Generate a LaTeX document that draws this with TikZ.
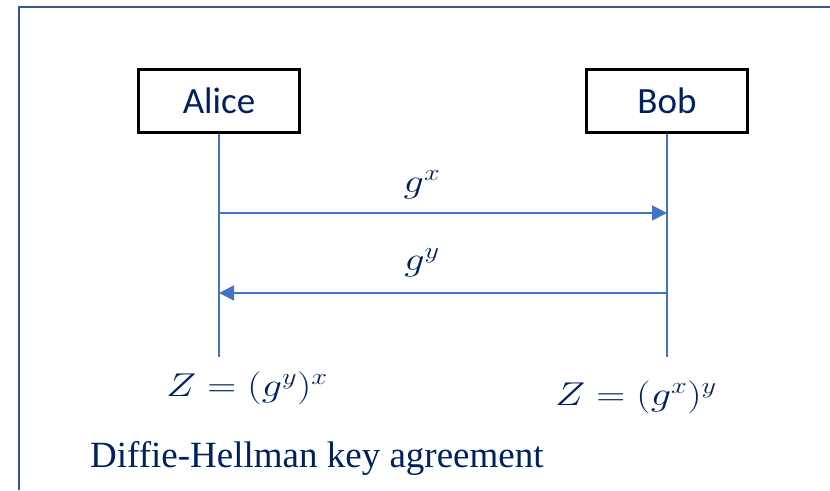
\RequirePackage{fix-cm}
\documentclass[tikz,border=0pt]{standalone}
\usepackage{fontspec}
\setmainfont{Liberation Serif}
\newfontfamily\calib{Carlito}
\usetikzlibrary{arrows.meta}
\definecolor{frameblue}{RGB}{55,85,150}
\definecolor{lineblue}{RGB}{68,114,196}
\definecolor{navy}{RGB}{0,32,96}
\tikzset{
  actor/.style={draw=black, line width=2.2pt, fill=white, minimum width=161pt, minimum height=63pt, inner sep=0pt, font=\calib\fontsize{37}{44}\selectfont, text=navy},
  life/.style={draw=lineblue, line width=1.8pt},
  msg/.style={draw=lineblue, line width=1.8pt, -{Triangle[length=15pt,width=15pt]}},
  mlabel/.style={anchor=base, text=navy, inner sep=0pt, font=\fontsize{33}{40}\selectfont, xscale=1.22},
}
\begin{document}
\begin{tikzpicture}[x=1pt,y=-1pt]
\useasboundingbox (0,0) rectangle (830,490);
\draw[frameblue, line width=2.4pt] (19,490) -- (19,7) -- (830,7);
\node[actor] (alice) at (219,101) {Alice};
\node[actor] (bob) at (667,101) {Bob};
\coordinate (aend) at (219,357);
\coordinate (bend) at (667,357);
\draw[life] (alice.south) -- (aend);
\draw[life] (bob.south) -- (bend);
\coordinate (a1) at (219,213);
\coordinate (b1) at (667,213);
\coordinate (a2) at (219,293);
\coordinate (b2) at (667,293);
\draw[msg] (a1) -- (b1);
\draw[msg] (b2) -- (a2);
\node[mlabel] (gx) at (422,192) {$g^x$};
\node[mlabel] (gy) at (422,270) {$g^y$};
\node[mlabel] (za) at (247,396) {$Z=(g^y)^x$};
\node[mlabel] (zb) at (636,405) {$Z=(g^x)^y$};
\node[anchor=base west, inner sep=0pt, text=navy, font=\fontsize{37}{44}\selectfont] (cap) at (90,467) {Diffie-Hellman key agreement};
\end{tikzpicture}
\end{document}
